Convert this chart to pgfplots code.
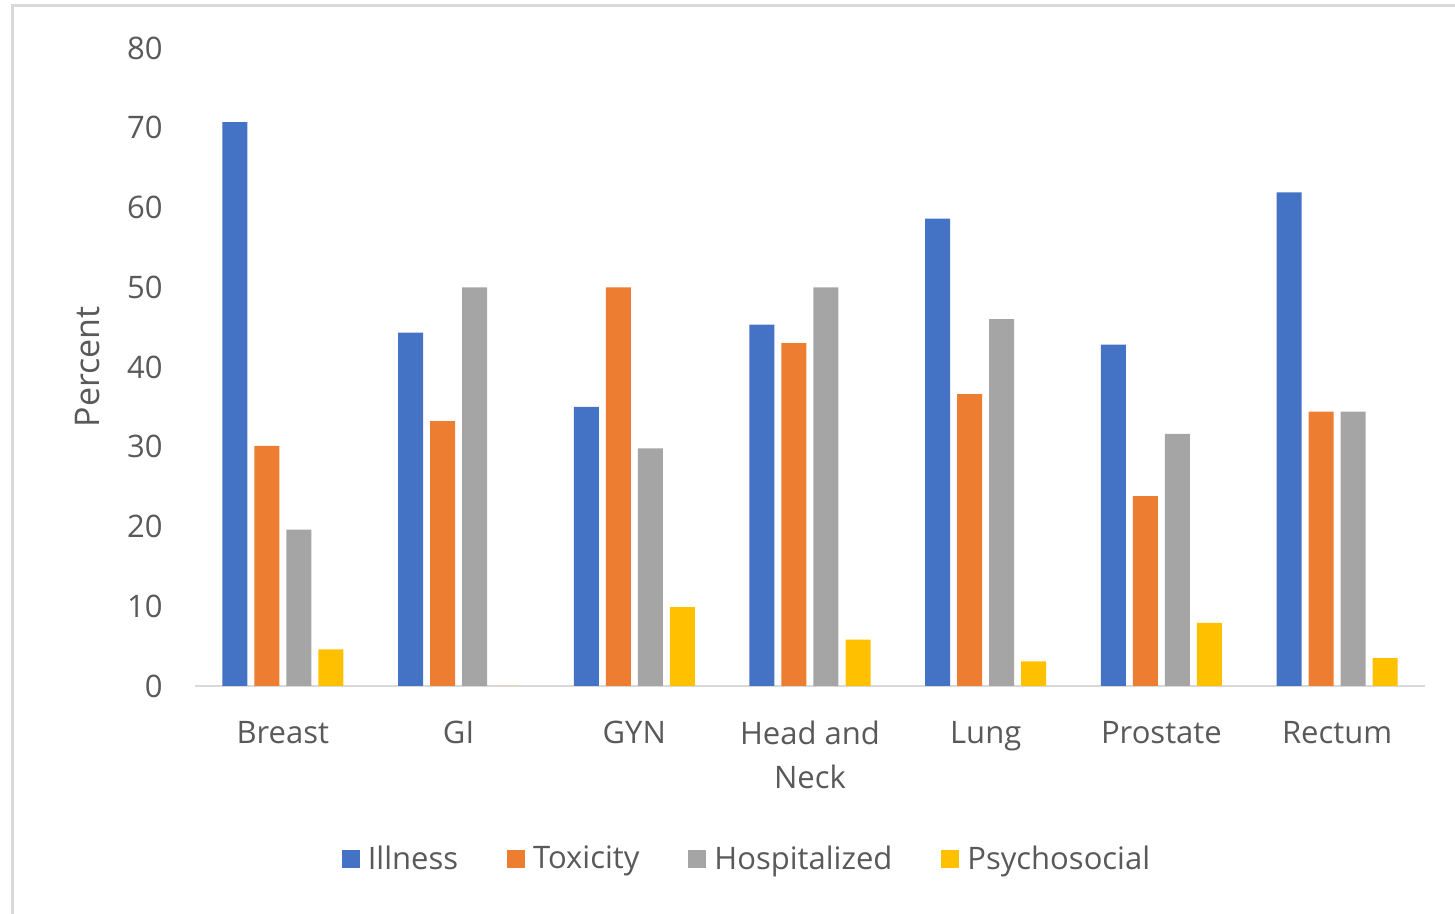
\documentclass[border=0pt]{standalone}
\usepackage{pgfplots}
\pgfplotsset{compat=1.18}
\usepackage{fontspec}
\setmainfont{Open Sans}

\definecolor{cIll}{HTML}{4472C4}
\definecolor{cTox}{HTML}{ED7D31}
\definecolor{cHos}{HTML}{A5A5A5}
\definecolor{cPsy}{HTML}{FFC000}
\definecolor{txt}{RGB}{89,89,89}
\definecolor{frm}{RGB}{217,217,217}

\pgfplotsset{
    sqlegend/.style={legend image code/.code={
        \fill[##1] (0bp,-4.5bp) rectangle (9bp,4.5bp);}},
}

\begin{document}
\begin{tikzpicture}
\useasboundingbox (0,0) rectangle (727.5bp,457bp);
\draw[frm, line width=1.5bp] (6bp,0) -- (6bp,454bp) -- (727.5bp,454bp);
\begin{axis}[
    at={(97.5bp,114bp)}, anchor=south west,
    scale only axis,
    width=615bp, height=319bp,
    ybar, bar width=12.5bp, ybar=3.5bp,
    xmin=-0.5, xmax=6.5, ymin=0, ymax=80,
    xtick={0,...,6},
    xticklabels={Breast,GI,GYN,{Head and\\Neck},Lung,Prostate,Rectum},
    ytick={0,10,...,80},
    axis x line*=bottom, axis y line*=left,
    x axis line style={frm, line width=1.3bp, -},
    y axis line style={draw=none},
    major tick length=0pt,
    tick style={draw=none},
    /pgf/number format/assume math mode=true,
    tick label style={font=\fontsize{15.5bp}{22bp}\selectfont, text=txt},
    yticklabel style={inner sep=0pt, xshift=-16bp},
    xticklabel style={inner sep=0pt, align=center, yshift=-17.5bp},
    ylabel={Percent},
    ylabel style={at={(axis description cs:-0.087,0.5)}, anchor=center,
        font=\fontsize{17bp}{20bp}\selectfont, text=txt},
    legend columns=4,
    legend style={at={(axis description cs:0.4496,-0.271)}, anchor=center,
        draw=none, font=\fontsize{15.5bp}{20bp}\selectfont, text=txt,
        /tikz/every even column/.append style={column sep=22.5bp},
        /tikz/every odd column/.append style={column sep=2bp}},
]
\addplot+[ybar, fill=cIll, draw=none, sqlegend] coordinates
    {(0,70.7) (1,44.3) (2,35.0) (3,45.3) (4,58.6) (5,42.8) (6,61.9)};
\addplot+[ybar, fill=cTox, draw=none, sqlegend] coordinates
    {(0,30.1) (1,33.2) (2,50.0) (3,43.0) (4,36.6) (5,23.8) (6,34.4)};
\addplot+[ybar, fill=cHos, draw=none, sqlegend] coordinates
    {(0,19.6) (1,50.0) (2,29.8) (3,50.0) (4,46.0) (5,31.6) (6,34.4)};
\addplot+[ybar, fill=cPsy, draw=none, sqlegend] coordinates
    {(0,4.6) (1,0) (2,9.9) (3,5.8) (4,3.1) (5,7.9) (6,3.5)};
\legend{Illness,Toxicity,Hospitalized,Psychosocial}
\end{axis}
\end{tikzpicture}
\end{document}
